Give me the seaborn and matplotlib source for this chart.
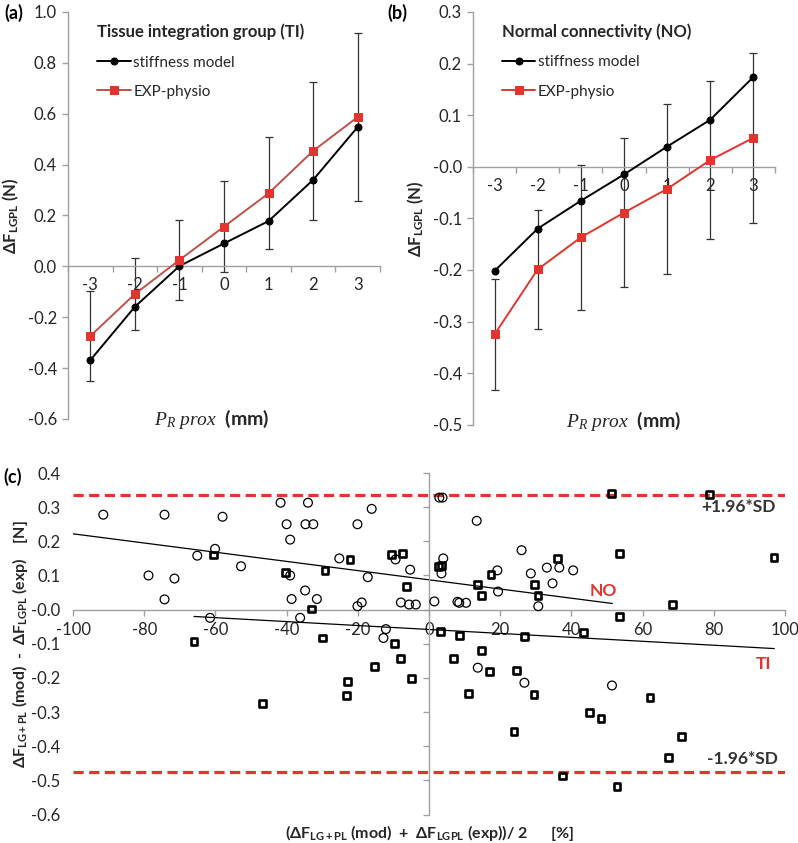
import numpy as np
import pandas as pd
import matplotlib
matplotlib.use("Agg")
import matplotlib.pyplot as plt
import seaborn as sns

# ---------------- data ----------------
positions = [-3, -2, -1, 0, 1, 2, 3]

ti_stiffness = [-0.369, -0.159, 0.001, 0.090, 0.178, 0.340, 0.548]
ti_exp = [-0.274, -0.109, 0.025, 0.156, 0.287, 0.454, 0.587]
ti_exp_err = [0.176, 0.141, 0.158, 0.178, 0.220, 0.270, 0.329]

no_stiffness = [-0.202, -0.120, -0.066, -0.015, 0.039, 0.091, 0.174]
no_exp = [-0.325, -0.199, -0.137, -0.089, -0.043, 0.013, 0.056]
no_exp_err = [0.107, 0.116, 0.140, 0.144, 0.165, 0.154, 0.165]

# Bland-Altman, NO group (circles)
ba_no_x = [-91.5, -74.3, -58.0, -41.7, -34.0, -40.0, -34.7, -32.5, -39.0, -16.1,
           -20.1, -60.1, -65.1, -52.8, -78.8, -71.5, -74.3, -39.0, -34.8, -38.6,
           -31.5, -25.2, -17.2, -18.9, -20.1, -61.5, -36.2, -12.1, -12.8, -9.4,
           -5.3, -7.9, -5.6, -3.7, 1.5, 2.9, 3.8, 4.0, 3.5, 13.4,
           26.0, 19.2, 28.6, 33.1, 36.6, 40.5, 34.7, 19.4, 30.7, 8.0,
           8.5, 10.4, 13.7, 26.8, 51.4]
ba_no_y = [0.278, 0.278, 0.272, 0.313, 0.313, 0.250, 0.250, 0.250, 0.205, 0.295,
           0.250, 0.178, 0.158, 0.127, 0.100, 0.091, 0.030, 0.100, 0.056, 0.031,
           0.031, 0.150, 0.095, 0.021, 0.010, -0.024, -0.024, -0.057, -0.083, 0.147,
           0.117, 0.021, 0.015, 0.015, 0.024, 0.328, 0.328, 0.150, 0.106, 0.260,
           0.174, 0.115, 0.106, 0.123, 0.123, 0.115, 0.077, 0.053, 0.010, 0.023,
           0.020, 0.020, -0.170, -0.214, -0.222]

# Bland-Altman, TI group (squares)
ba_ti_x = [-60.6, -40.3, -29.2, -22.2, -33.0, -66.0, -29.9, -10.6, -7.5, -6.3,
           2.6, 3.6, 3.3, -9.7, -8.1, -15.2, -4.9, -22.8, -23.1, -46.8,
           51.3, 78.9, 53.5, 96.9, 36.0, 17.4, 13.7, 29.6, 14.8, 30.6,
           68.4, 53.5, 8.5, 26.8, 43.5, 14.8, 6.9, 16.9, 24.6, 11.2,
           29.5, 45.0, 48.3, 23.9, 62.1, 71.0, 67.3, 37.4, 52.8]
ba_ti_y = [0.160, 0.109, 0.114, 0.147, 0.002, -0.094, -0.083, 0.162, 0.164, 0.067,
           0.127, 0.129, -0.065, -0.100, -0.144, -0.166, -0.201, -0.211, -0.251, -0.274,
           0.340, 0.337, 0.165, 0.152, 0.150, 0.103, 0.073, 0.073, 0.041, 0.041,
           0.014, -0.021, -0.076, -0.078, -0.066, -0.120, -0.143, -0.182, -0.178, -0.245,
           -0.249, -0.301, -0.318, -0.357, -0.257, -0.371, -0.432, -0.487, -0.518]

# trend lines (end points)
no_fit_x = [-100.0, 51.5]
no_fit_y = [0.222, 0.018]
ti_fit_x = [-66.0, 97.0]
ti_fit_y = [-0.020, -0.114]

sd_upper = 0.335
sd_lower = -0.475

# ---------------- style ----------------
sns.set_theme(style="ticks")
plt.rcParams["font.family"] = ["Lato", "DejaVu Sans"]
plt.rcParams["axes.unicode_minus"] = False
plt.rcParams["mathtext.fontset"] = "custom"
plt.rcParams["mathtext.rm"] = "Lato"
plt.rcParams["mathtext.bf"] = "Lato:bold"
plt.rcParams["mathtext.it"] = "Liberation Serif:italic"

AX_GRAY = "#a0a0a0"
TXT = "#262626"
RED = "#e3342f"
RED_LINE_A = "#c0504d"
TICK_FS = 12

fig = plt.figure(figsize=(7.98, 8.43), dpi=100)


def style_line_axes(ax, ylim, yticks):
    ax.set_xlim(-3.5, 3.5)
    ax.set_ylim(*ylim)
    for s in ["top", "right"]:
        ax.spines[s].set_visible(False)
    ax.spines["bottom"].set_position(("data", 0))
    for s in ["bottom", "left"]:
        ax.spines[s].set_color(AX_GRAY)
        ax.spines[s].set_linewidth(1.0)
    ax.set_xticks(np.arange(-3.5, 3.6, 1.0))
    ax.set_xticklabels([])
    ax.set_xticks(positions, minor=True)
    ax.set_xticklabels([str(p) for p in positions], minor=True)
    ax.tick_params(axis="x", which="major", length=4, width=1, color=AX_GRAY, direction="out")
    ax.tick_params(axis="x", which="minor", length=0, pad=8, labelsize=TICK_FS, labelcolor=TXT)
    ax.set_yticks(yticks)
    ax.set_yticklabels([f"{v:.1f}" for v in yticks])
    ax.tick_params(axis="y", length=4, width=1, color=AX_GRAY, direction="out",
                   pad=4, labelsize=TICK_FS, labelcolor=TXT)
    ax.set_xlabel("")
    ax.set_ylabel("")


def draw_line_panel(ax, stiff, exp, err, exp_line_color, title):
    df = pd.DataFrame({"pos": positions, "stiff": stiff, "exp": exp})
    ax.errorbar(df["pos"], df["exp"], yerr=err, fmt="none", ecolor="#333333",
                elinewidth=0.9, capsize=3, capthick=0.9, zorder=1)
    sns.lineplot(data=df, x="pos", y="stiff", ax=ax, color="black", lw=1.4,
                 marker="o", markersize=5, markeredgecolor="black",
                 markerfacecolor="black", label="stiffness model", zorder=3)
    sns.lineplot(data=df, x="pos", y="exp", ax=ax, color=exp_line_color, lw=1.4,
                 marker="s", markersize=5.5, markeredgecolor=RED,
                 markerfacecolor=RED, label="EXP-physio", zorder=3)
    leg = ax.legend(title=title, loc="upper left", bbox_to_anchor=(0.05, 1.005),
                    frameon=False, alignment="left", handlelength=2.2,
                    labelspacing=1.0, handletextpad=0.15, fontsize=11,
                    title_fontproperties={"weight": "bold", "size": 12})
    for t in leg.get_texts():
        t.set_color(TXT)
    leg.get_title().set_color(TXT)


# ---------------- panel (a) ----------------
ax_a = fig.add_axes([0.0852, 0.503, 0.391, 0.4828])
draw_line_panel(ax_a, ti_stiffness, ti_exp, ti_exp_err, RED_LINE_A,
                "Tissue integration group (TI)")
style_line_axes(ax_a, (-0.6, 1.0), np.round(np.arange(-0.6, 1.01, 0.2), 1))
ax_a.text(0.46, 0.0, r"$P_R\ prox$  (mm)", transform=ax_a.transAxes,
          ha="center", va="center", fontsize=14, fontweight="bold", color=TXT)
ax_a.set_ylabel(r"ΔF$_{\mathbf{LGPL}}$ (N)", fontsize=12, fontweight="bold",
                color=TXT, labelpad=5)
fig.text(0.006, 0.985, "(a)", fontsize=13, fontweight="bold", color="black",
         va="center")

# ---------------- panel (b) ----------------
ax_b = fig.add_axes([0.5927, 0.4962, 0.3784, 0.4896])
draw_line_panel(ax_b, no_stiffness, no_exp, no_exp_err, RED,
                "Normal connectivity (NO)")
style_line_axes(ax_b, (-0.5, 0.3), np.round(np.arange(-0.5, 0.31, 0.1), 1))
ax_b.text(0.5, 0.01, r"$P_R\ prox$  (mm)", transform=ax_b.transAxes,
          ha="center", va="center", fontsize=14, fontweight="bold", color=TXT)
ax_b.set_ylabel(r"ΔF$_{\mathbf{LGPL}}$ (N)", fontsize=12, fontweight="bold",
                color=TXT, labelpad=5)
fig.text(0.485, 0.985, "(b)", fontsize=13, fontweight="bold", color="black",
         va="center")

# ---------------- panel (c) ----------------
ax_c = fig.add_axes([0.0915, 0.0337, 0.8922, 0.4052])
ax_c.axhline(sd_upper, color=RED, lw=2.3, dashes=(3.2, 1.7), zorder=1)
ax_c.axhline(sd_lower, color=RED, lw=2.3, dashes=(3.2, 1.7), zorder=1)
sns.lineplot(x=no_fit_x, y=no_fit_y, ax=ax_c, color="black", lw=0.9, zorder=2)
sns.lineplot(x=ti_fit_x, y=ti_fit_y, ax=ax_c, color="black", lw=0.9, zorder=2)
sns.scatterplot(x=ba_no_x, y=ba_no_y, ax=ax_c, marker="o", s=40,
                facecolors="none", edgecolors="black", linewidths=0.9, zorder=3)
sns.scatterplot(x=ba_ti_x, y=ba_ti_y, ax=ax_c, marker="s", s=24,
                facecolors="none", edgecolors="black", linewidths=1.9, zorder=3)

ax_c.set_xlim(-100, 100)
ax_c.set_ylim(-0.6, 0.4)
for s in ["top", "left"]:
    ax_c.spines[s].set_visible(False)
ax_c.spines["bottom"].set_position(("data", 0))
ax_c.spines["right"].set_position(("data", 0))
for s in ["bottom", "right"]:
    ax_c.spines[s].set_color(AX_GRAY)
    ax_c.spines[s].set_linewidth(1.0)
xt = list(range(-100, 101, 20))
ax_c.set_xticks(xt)
ax_c.set_xticklabels([str(v) for v in xt])
ax_c.tick_params(axis="x", length=4, width=1, color=AX_GRAY, direction="out",
                 pad=5, labelsize=TICK_FS, labelcolor=TXT)
yt = np.round(np.arange(-0.6, 0.41, 0.1), 1)
ax_c.set_yticks(yt)
ax_c.set_yticklabels([f"{v:.1f}" for v in yt])
ax_c.tick_params(axis="y", left=False, labelleft=True, right=True, labelright=False,
                 direction="in", length=4, width=1, color=AX_GRAY, pad=9,
                 labelsize=TICK_FS, labelcolor=TXT)
ax_c.set_xlabel("")
ax_c.set_ylabel(r"ΔF$_{\mathbf{LG+PL}}$ (mod)  -  ΔF$_{\mathbf{LGPL}}$ (exp)    [N]",
                fontsize=11.5, fontweight="bold", color=TXT, labelpad=1)
ax_c.text(0.5, -0.055, r"(ΔF$_{\mathbf{LG+PL}}$ (mod)  +  ΔF$_{\mathbf{LGPL}}$ (exp))/ 2      [%]",
          transform=ax_c.transAxes, ha="center", va="center", fontsize=11.5,
          fontweight="bold", color=TXT)

ax_c.text(49, 0.055, "NO", color=RED, fontweight="bold", fontsize=12.5,
          ha="center", va="center")
ax_c.text(94, -0.16, "TI", color=RED, fontweight="bold", fontsize=12.5,
          ha="center", va="center")
ax_c.text(87, 0.30, "+1.96*SD", color="#333333", fontweight="bold", fontsize=12.5,
          ha="center", va="center")
ax_c.text(88, -0.437, "-1.96*SD", color="#333333", fontweight="bold", fontsize=12.5,
          ha="center", va="center")
fig.text(0.004, 0.434, "(c)", fontsize=13, fontweight="bold", color="black",
         va="center")

fig.savefig("out.png", dpi=100)
